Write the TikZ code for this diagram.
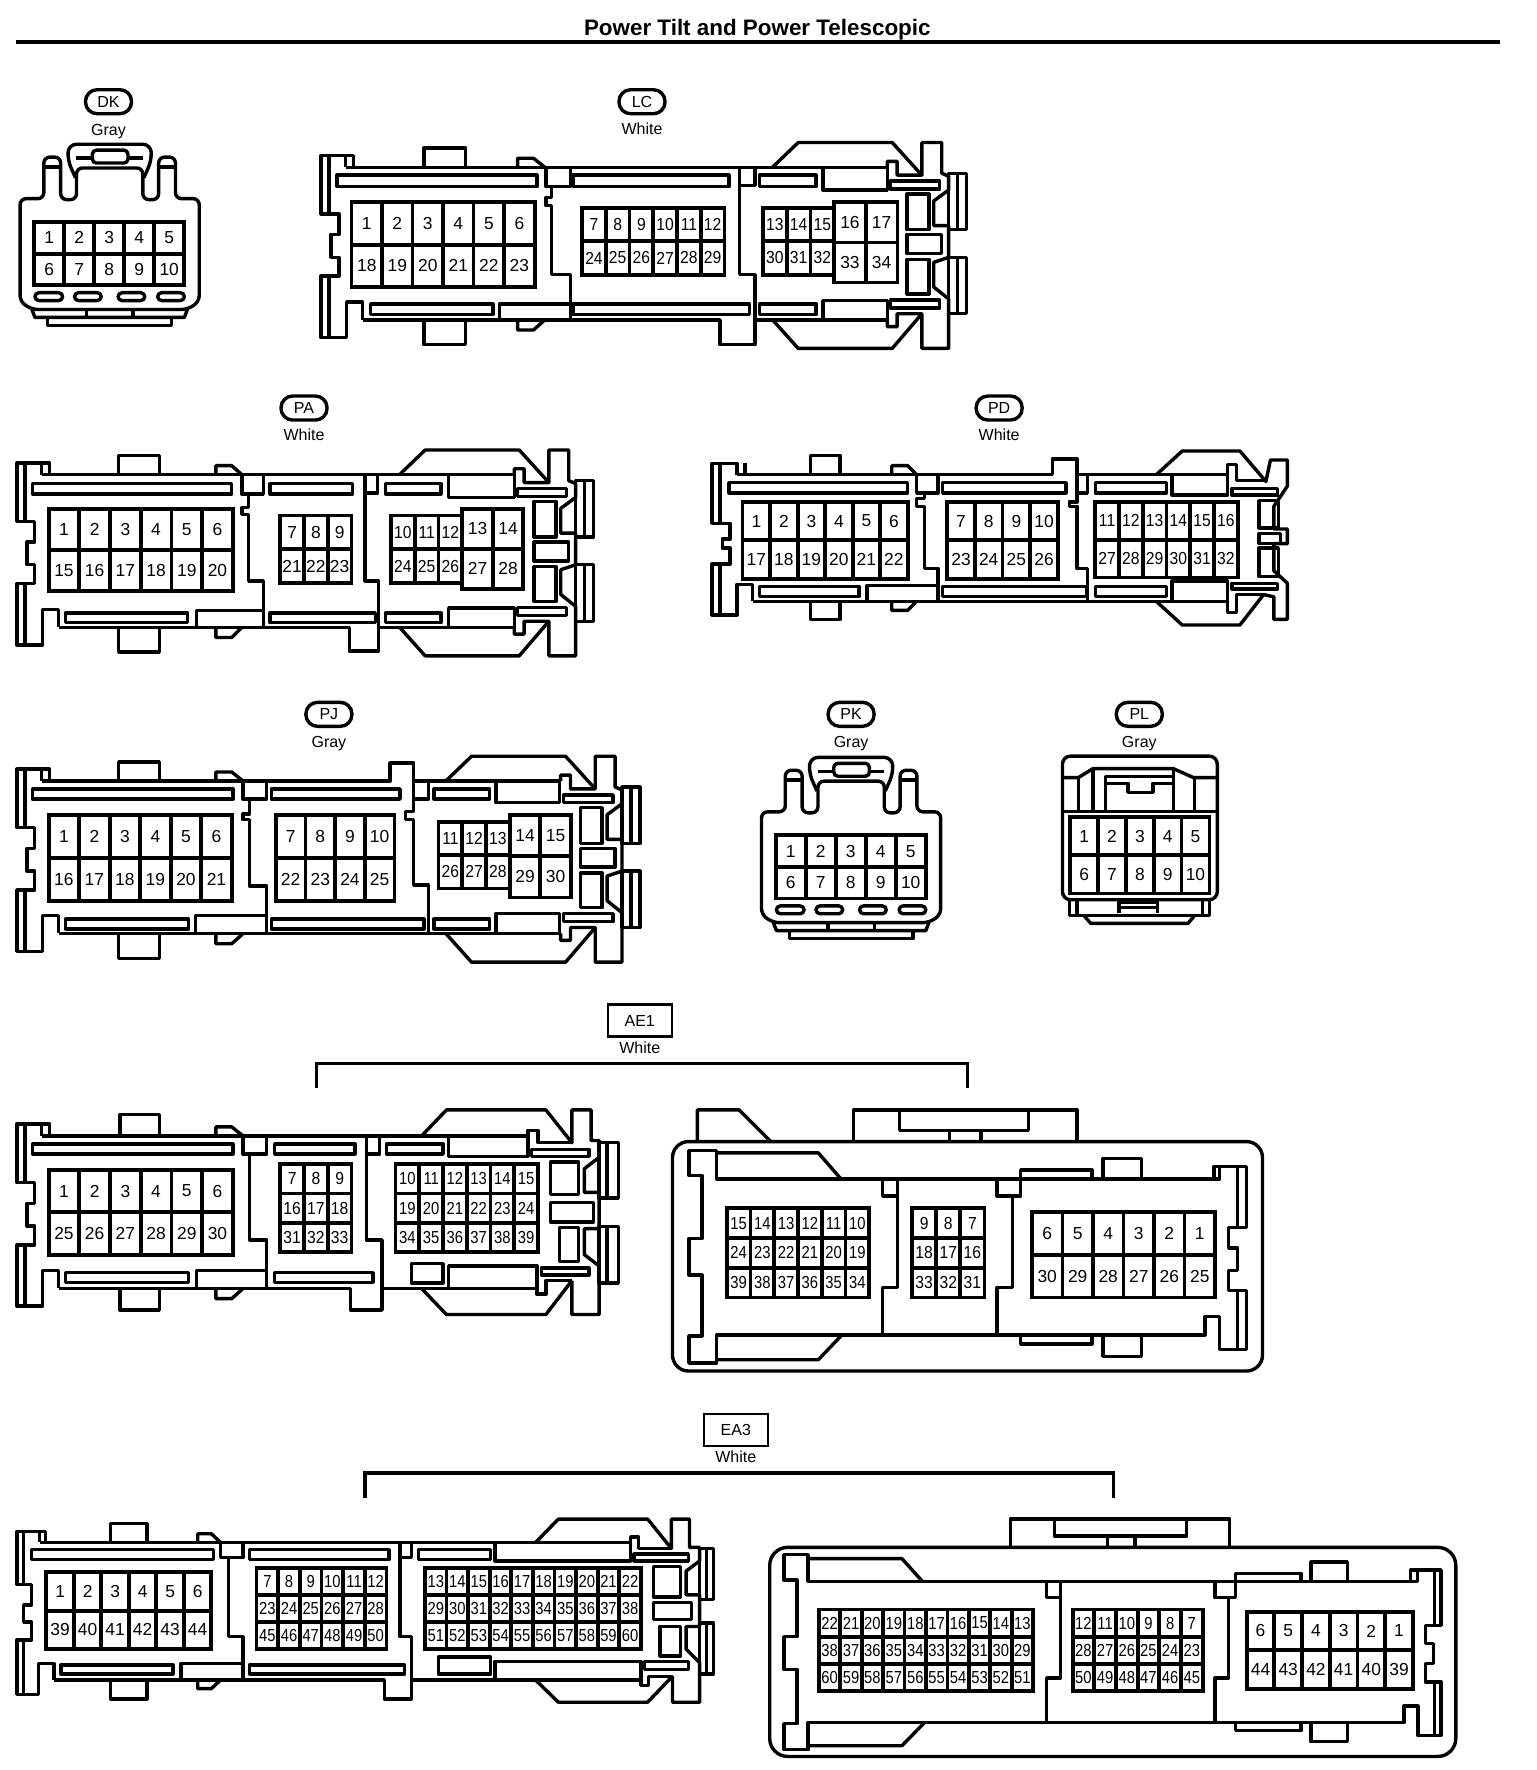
\documentclass[tikz,border=0pt]{standalone}
\usepackage{fontspec}
\setmainfont{Liberation Sans}
\tikzset{
  ln/.style={line width=1.7pt,line join=round},
  pinline/.style={line width=1.9pt},
  pinlabel/.style={inner sep=0pt,font=\fontsize{8.7}{8.7}\selectfont},
  pilltag/.style={draw,line width=1.7pt,rounded corners=5.8pt,minimum width=23pt,minimum height=12pt,inner sep=0pt,font=\fontsize{8}{8}\selectfont},
  boxtag/.style={draw,line width=1.2pt,minimum width=32pt,minimum height=16pt,inner sep=0pt,font=\fontsize{8}{8}\selectfont},
  colourtag/.style={inner sep=0pt,font=\fontsize{8}{8}\selectfont},
  bracket/.style={line width=1.8pt,line join=miter}
}
\newcommand\bx[4]{\draw[ln] (#1,#2) rectangle (#3,#4);}
\newcommand\pins[9][1]{%
  \pgfmathsetmacro\cwd{((#5)-(#3))/#7}%
  \pgfmathsetmacro\rht{((#6)-(#4))/#8}%
  \draw[pinline] (#3,#4) rectangle (#5,#6);
  \foreach \ii in {1,...,#7}{\draw[pinline] ({#3+\ii*\cwd},#4) -- ({#3+\ii*\cwd},#6);}
  \foreach \ii in {1,...,#8}{\draw[pinline] (#3,{#4+\ii*\rht}) -- (#5,{#4+\ii*\rht});}
  \foreach \rowlist [count=\rowno] in {#9}{
    \foreach \lab [count=\colno] in \rowlist {
      \node[pinlabel] (#2-\lab) at ({#3+(\colno-.5)*\cwd},{#4+(\rowno-.5)*\rht}) {\scalebox{#1}[1]{\lab}};
    }
  }
}
\newcommand\leftend[2]{%
  \begin{scope}[shift={(#1,#2)},scale=.8757]
    \draw[ln] (25,0)--(25,-12)--(0,-12)--(0,47)--(18,47)--(18,68)--(10,68)--(10,91)--(18,91)--(18,110)--(0,110)--(0,172)--(26,172)--(26,136)--(42,136)--(42,154);
    \draw[ln] (25,0)--(33,0)--(33,-12)--(25,-12);
    \draw[ln] (8,-12)--(8,47) (8,110)--(8,172);
  \end{scope}}
\newcommand\rightend[2]{%
  \begin{scope}[shift={(#1,#2)},scale=.8757]
    \draw[ln] (0,0)--(0,-6)--(10,-6)--(10,8)--(35,8)--(35,-25)--(55,-25)--(55,6)--(62,9)--(62,23)--(47,34)--(47,59)--(62,59)--(62,91)--(47,96)--(47,121)--(62,133)--(62,183)--(35,183)--(35,148)--(10,148)--(10,161)--(0,161)--(0,154);
    \draw[ln] (-116,0)--(-90,-25)--(5,-25)--(35,8);
    \draw[ln] (-116,154)--(-90,183)--(5,183)--(35,148);
    \draw[ln] (62,6) rectangle (80,63) (71,6)--(71,63);
    \draw[ln] (62,91) rectangle (80,148) (71,91)--(71,148);
    \draw[ln] (3,14) rectangle (53,22);
    \draw[ln] (3,134) rectangle (53,142);
    \draw[ln] (20,27) rectangle (42,63);
    \draw[ln] (20,68) rectangle (55,87);
    \draw[ln] (20,93) rectangle (42,128);
  \end{scope}}
\newcommand\plugten[3]{%
  \begin{scope}[shift={(#2,#3)},scale=.8757]
    \draw[ln,rounded corners=3pt] (30,311)--(18,303)--(18,199)--(42,199)--(42,157)--(59,157)--(59,200)--(75,200)--(75,168)--(142,168)--(142,200)--(158,200)--(158,157)--(175,157)--(175,199)--(199,199)--(199,303)--(187,311)--cycle;
    \draw[ln] (42,167)--(59,167) (158,167)--(175,167);
    \draw[ln,rounded corners=4pt] (74,178)--(66,160)--(67,144)--(150,144)--(151,160)--(143,178);
    \draw[ln] (75,158)--(91,158) (127,158)--(142,158);
    \draw[ln,rounded corners=2pt] (91,150) rectangle (127,163);
    \draw[ln,rounded corners=2pt] (33,294) rectangle (61,302);
    \draw[ln,rounded corners=2pt] (73,294) rectangle (100,302);
    \draw[ln,rounded corners=2pt] (117,294) rectangle (144,302);
    \draw[ln,rounded corners=2pt] (157,294) rectangle (184,302);
    \draw[ln] (30,311)--(33,319)--(184,319)--(187,311);
    \draw[ln] (85,311)--(85,319) (132,311)--(132,319);
    \draw[ln] (46,319) rectangle (171,327);
  \end{scope}
  \pins{#1}{#2+28.3}{#3+195}{#2+161}{#3+251}{5}{2}{{1,2,3,4,5},{6,7,8,9,10}}}
\begin{document}
\begin{tikzpicture}[x=0.5651pt,y=-0.5651pt]
\fill[white] (0,0) rectangle (1359,1566);
\useasboundingbox (0,0) rectangle (1359,1566);
% title
\node[inner sep=0pt,font=\fontsize{11.2}{11.2}\bfseries\selectfont] (title) at (670,26) {Power Tilt and Power Telescopic};
\draw[line width=2.2pt] (14,37)--(1327,37);
% tags
\node[pilltag] (tDK) at (96,90) {DK};   \node[colourtag] (cDK) at (96,116) {Gray};
\node[pilltag] (tLC) at (568,90) {LC};  \node[colourtag] (cLC) at (568,114) {White};
\node[pilltag] (tPA) at (269,361) {PA}; \node[colourtag] (cPA) at (269,385) {White};
\node[pilltag] (tPD) at (884,361) {PD}; \node[colourtag] (cPD) at (884,385) {White};
\node[pilltag] (tPJ) at (291,632) {PJ}; \node[colourtag] (cPJ) at (291,658) {Gray};
\node[pilltag] (tPK) at (753,632) {PK}; \node[colourtag] (cPK) at (753,658) {Gray};
\node[pilltag] (tPL) at (1008,632) {PL};\node[colourtag] (cPL) at (1008,658) {Gray};
\node[boxtag] (tAE) at (566,903) {AE1}; \node[colourtag] (cAE) at (566,927) {White};
\node[boxtag] (tEA) at (651,1265) {EA3};\node[colourtag] (cEA) at (651,1289) {White};
% brackets
\coordinate (ae1l) at (280,963); \coordinate (ae1r) at (856,963);
\draw[bracket] (ae1l)--(280,941)--(856,941)--(ae1r);
\coordinate (ea3l) at (323,1325); \coordinate (ea3r) at (985,1325);
\draw[bracket] (ea3l)--(323,1303)--(985,1303)--(ea3r);

% DK / PK
\plugten{DK}{2}{1.5}
\plugten{PK}{658}{544}

% LC
\leftend{284}{148}
\rightend{785}{148}
\draw[ln] (312,148)--(785,148);
\draw[ln] (321,283)--(637,283)--(637,305)--(668,305)--(668,283)--(785,283);
\draw[ln] (375,148)--(375,131)--(412,131)--(412,148);
\draw[ln] (375,283)--(375,305)--(412,305)--(412,283);
\draw[ln] (458,148)--(458,140)--(472,140)--(482,148);
\draw[ln] (458,283)--(458,292)--(472,292)--(482,283);
\bx{298}{155}{475}{165}
\bx{328}{269}{436}{278}
\bx{483}{148}{505}{165}
\draw[ln] (488,165)--(488,175)--(483,175)--(483,182)--(488,182)--(488,243)--(505,243)--(505,283);
\draw[ln] (442,283)--(442,269)--(505,269);
\bx{507}{155}{645}{165}
\bx{507}{269}{663}{278}
\bx{654}{148}{668}{164}
\draw[ln] (654,164)--(654,243)--(668,243)--(668,283);
\bx{672}{155}{722}{165}
\bx{672}{269}{722}{278}
\bx{728}{148}{785}{168}
\bx{728}{266}{785}{283}
\pins{LC1}{311}{179}{473}{254}{6}{2}{{1,2,3,4,5,6},{18,19,20,21,22,23}}
\pins[.9]{LC2}{515}{184}{641}{243}{6}{2}{{7,8,9,10,11,12},{24,25,26,27,28,29}}
\pins[.9]{LC3}{675}{184}{738}{243}{3}{2}{{13,14,15},{30,31,32}}
\pins{LC4}{738}{179}{794}{250}{2}{2}{{16,17},{33,34}}

% PA
\leftend{15}{420}
\rightend{455}{420}
\draw[ln] (44,420)--(455,420);
\draw[ln] (52,555)--(309,555)--(309,576)--(335,576)--(335,555)--(455,555);
\draw[ln] (105,420)--(105,403)--(141,403)--(141,420);
\draw[ln] (105,555)--(105,577)--(141,577)--(141,555);
\draw[ln] (191,420)--(191,412)--(205,412)--(214,420);
\draw[ln] (191,555)--(191,564)--(205,564)--(214,555);
\bx{29}{428}{205}{437}
\bx{58}{542.5}{166}{551}
\bx{214}{420}{233}{437}
\draw[ln] (220,437)--(220,449)--(214,449)--(214,455)--(220,455)--(220,514)--(233,514)--(233,555);
\draw[ln] (174,555)--(174,540)--(233,540);
\bx{239}{428}{312}{437}
\bx{239}{542.5}{332}{551}
\bx{323}{420}{334}{436}
\draw[ln] (323,436)--(323,514)--(335,514)--(335,555);
\bx{341}{428}{390}{437}
\bx{341}{542.5}{390}{551}
\bx{397}{420}{455}{440}
\bx{397}{538}{455}{555}
\pins{PA1}{43}{450}{206}{523}{6}{2}{{1,2,3,4,5,6},{15,16,17,18,19,20}}
\pins{PA2}{248}{456}{311}{516}{3}{2}{{7,8,9},{21,22,23}}
\pins[.9]{PA3}{346}{456}{409}{516}{3}{2}{{10,11,12},{24,25,26}}
\pins{PA4}{409}{450}{463}{521}{2}{2}{{13,14},{27,28}}

% PD
\draw[ln] (652,420)--(652,410)--(630,410)--(630,463)--(646,463)--(646,477)--(639,477)--(639,485)--(646,485)--(646,499)--(630,499)--(630,544)--(652,544)--(652,517)--(666,517)--(666,532);
\draw[ln] (637,410)--(637,463) (637,499)--(637,544) (652,420)--(659,420)--(659,410);
\draw[ln] (659,420)--(931,420)--(931,406)--(953,406)--(953,444)--(946,444)--(946,448)--(953,448)--(953,503)--(962,503)--(962,532);
\draw[ln] (666,532)--(1086,532)--(1086,542)--(1094,542)--(1094,526)--(1118,526);
\draw[ln] (953,420)--(1086,420)--(1086,411)--(1094,411)--(1094,425)--(1120,425);
\draw[ln] (717,420)--(717,403)--(743,403)--(743,420);
\draw[ln] (717,532)--(717,548)--(743,548)--(743,532);
\draw[ln] (789,420)--(789,412)--(803,412)--(811,420);
\draw[ln] (789,532)--(789,540)--(803,540)--(811,532);
\bx{645}{427}{803}{436}
\bx{672}{519}{760}{527.5}
\draw[ln] (767,532)--(767,518)--(830,518);
\bx{811}{420}{830}{436}
\draw[ln] (818,436)--(818,441)--(811,441)--(811,448)--(818,448)--(818,503)--(830,503)--(830,532);
\bx{834}{427}{943}{436}
\bx{834}{519}{961}{527.5}
\bx{953}{420}{962}{436}
\bx{969}{427}{1032}{436}
\bx{969}{519}{1032}{527.5}
\bx{1037}{420}{1086}{438}
\bx{1037}{514}{1086}{532}
\draw[ln] (1023,420)--(1046,399)--(1097,399)--(1120,426)--(1124,407)--(1139,407)--(1139,430)--(1127,448)--(1127,468)--(1139,468)--(1139,481)--(1127,481)--(1127,505)--(1139,516)--(1139,548)--(1127,548)--(1127,528)--(1118,526);
\draw[ln] (1023,532)--(1046,553)--(1097,553)--(1118,526);
\bx{1090}{432}{1130}{438}
\bx{1090}{516}{1130}{521}
\bx{1114}{443}{1131}{467}
\bx{1114}{472}{1133}{481}
\bx{1114}{485}{1131}{510}
\pins{PD1}{657}{444}{803}{512}{6}{2}{{1,2,3,4,5,6},{17,18,19,20,21,22}}
\pins{PD2}{838}{444}{936}{512}{4}{2}{{7,8,9,10},{23,24,25,26}}
\pins[.9]{PD3}{969}{444}{1095}{511}{6}{2}{{11,12,13,14,15,16},{27,28,29,30,31,32}}

% PJ
\leftend{15}{691}
\rightend{496}{691}
\draw[ln] (44,691)--(345,691)--(345,675)--(366,675)--(366,691)--(496,691);
\draw[ln] (52,826)--(496,826);
\draw[ln] (105,691)--(105,674)--(141,674)--(141,691);
\draw[ln] (105,826)--(105,848)--(141,848)--(141,826);
\draw[ln] (191,691)--(191,683)--(205,683)--(215,691);
\draw[ln] (191,826)--(191,835)--(205,835)--(215,826);
\bx{29}{698}{206}{707}
\bx{58}{813}{167}{822}
\bx{215}{691}{236}{707}
\draw[ln] (221,707)--(221,720)--(215,720)--(215,725)--(221,725)--(221,784)--(236,784)--(236,826);
\draw[ln] (173,826)--(173,810)--(236,810);
\bx{240}{698}{354}{707}
\bx{240}{813}{375}{822}
\bx{366}{691}{379}{707}
\draw[ln] (366,707)--(366,718)--(359,718)--(359,725)--(366,725)--(366,783)--(379,783)--(379,826);
\bx{384}{698}{433}{707}
\bx{384}{813}{433}{822}
\bx{439}{691}{495}{710}
\bx{439}{808}{495}{826}
\pins{PJ1}{43}{721}{205}{797}{6}{2}{{1,2,3,4,5,6},{16,17,18,19,20,21}}
\pins{PJ2}{244}{721}{349}{797}{4}{2}{{7,8,9,10},{22,23,24,25}}
\pins[.9]{PJ3}{388}{727}{451}{786}{3}{2}{{11,12,13},{26,27,28}}
\pins{PJ4}{451}{721}{505}{794}{2}{2}{{14,15},{29,30}}

% PL
\draw[ln,rounded corners=4pt] (940,669) rectangle (1077,796);
\draw[ln] (940,688)--(954,688)--(967,680)--(1038,680)--(1056,688)--(1077,688);
\draw[ln] (940,718)--(1077,718);
\draw[ln] (954,688)--(954,718) (967,680)--(967,718) (1038,680)--(1038,718) (1057,688)--(1057,718);
\draw[ln] (978,718)--(978,687)--(1038,687)--(1038,718);
\draw[ln] (978,693)--(998,693)--(998,701)--(1020,701)--(1020,693)--(1038,693);
\draw[ln] (946,796)--(946,810)--(1070,810)--(1070,796) (953,796)--(953,810) (1064,796)--(1064,810);
\draw[ln] (959,810)--(965,817)--(1051,817)--(1057,810);
\draw[ln] (990,808)--(990,798)--(1024,798)--(1024,808) (990,803)--(1024,803);
\pins{PL}{947}{723}{1070}{790.5}{5}{2}{{1,2,3,4,5},{6,7,8,9,10}}

% AE1 left
\leftend{15}{1005}
\draw[ln] (44,1005)--(467,1005)--(467,1000)--(476,1000)--(476,1011)--(506,1011);
\draw[ln] (52,1140)--(310,1140)--(310,1159)--(338,1159)--(338,1140)--(475,1140)--(475,1145)--(483,1145)--(483,1133)--(506,1133);
\draw[ln] (106,1005)--(106,986)--(141,986)--(141,1005);
\draw[ln] (106,1140)--(106,1159)--(141,1159)--(141,1140);
\draw[ln] (191,1005)--(191,997)--(205,997)--(215,1005);
\draw[ln] (191,1140)--(191,1149)--(205,1149)--(215,1140);
\bx{29}{1012}{206}{1021}
\bx{58}{1126}{167}{1134.5}
\bx{215}{1005}{236}{1021}
\draw[ln] (221,1021)--(221,1097)--(236,1097)--(236,1140);
\draw[ln] (174,1140)--(174,1124)--(236,1124);
\bx{243}{1012}{314}{1021}
\bx{243}{1126}{330}{1134.5}
\bx{324}{1005}{336}{1021}
\draw[ln] (324,1021)--(324,1097)--(338,1097)--(338,1140);
\bx{342}{1012}{392}{1021}
\bx{397}{1005}{467}{1023}
\bx{397}{1120}{475}{1140}
\bx{364}{1118}{392}{1135}
\draw[ln] (373,1005)--(395,982)--(483,982)--(506,1011)--(506,982)--(523,982)--(523,1009)--(530,1009)--(530,1024)--(517,1034)--(517,1055)--(530,1055)--(530,1087)--(517,1087)--(517,1110)--(530,1120)--(530,1163)--(506,1163)--(506,1133);
\draw[ln] (373,1140)--(395,1163)--(483,1163)--(506,1133);
\draw[ln] (530,1011) rectangle (547,1060) (537,1011)--(537,1060);
\draw[ln] (530,1085) rectangle (547,1135) (537,1085)--(537,1135);
\bx{470}{1017}{521}{1023}
\bx{479}{1122}{521}{1128}
\bx{487}{1028}{512}{1057}
\bx{487}{1064}{525}{1081}
\bx{495}{1086}{512}{1116}
\pins{AL1}{43}{1035}{206}{1110}{6}{2}{{1,2,3,4,5,6},{25,26,27,28,29,30}}
\pins[.9]{AL2}{248}{1030}{311}{1108}{3}{3}{{7,8,9},{16,17,18},{31,32,33}}
\pins[.85]{AL3}{350}{1030}{476}{1108}{6}{3}{{10,11,12,13,14,15},{19,20,21,22,23,24},{34,35,36,37,38,39}}

% AE1 right
\draw[ln,rounded corners=8pt] (595,1010) rectangle (1117,1213);
\draw[ln] (617,1010)--(617,982)--(654,982)--(682,1010);
\draw[ln] (755,1010)--(755,982)--(953,982)--(953,1010);
\draw[ln] (796,982)--(796,1000)--(910,1000)--(910,982);
\draw[ln] (840,1000)--(840,1010) (868,1000)--(868,1010);
\draw[ln] (634,1043)--(634,1018)--(609.5,1018)--(609.5,1040)--(621,1040)--(621,1096)--(609.5,1096)--(609.5,1128)--(621,1128)--(621,1182)--(609.5,1182)--(609.5,1206)--(634,1206)--(634,1181)--(1066,1181)--(1066,1165)--(1079,1165)--(1079,1194)--(1103,1194)--(1103,1142)--(1087,1142)--(1087,1124)--(1095,1124)--(1095,1104)--(1087,1104)--(1087,1086)--(1103,1086)--(1103,1032)--(1074,1032)--(1074,1043)--cycle;
\draw[ln] (634,1020)--(724,1020)--(744,1043);
\draw[ln] (634,1203)--(724,1203)--(745,1181);
\draw[ln] (1095,1032)--(1095,1086) (1095,1142)--(1095,1194) (1079,1032)--(1079,1043)--(1074,1043);
\draw[ln] (903,1043)--(903,1035)--(966,1035)--(966,1043);
\draw[ln] (976,1043)--(976,1025)--(1010,1025)--(1010,1043);
\draw[ln] (903,1181)--(903,1189)--(966,1189)--(966,1181);
\draw[ln] (976,1181)--(976,1200)--(1010,1200)--(1010,1181);
\bx{781}{1043}{794}{1058}
\draw[ln] (794,1058)--(794,1139)--(781,1139)--(781,1181);
\bx{882}{1043}{903}{1058}
\draw[ln] (896,1058)--(896,1139)--(882,1139)--(882,1181);
\pins[.85]{AR1}{643}{1069}{769}{1148}{6}{3}{{15,14,13,12,11,10},{24,23,22,21,20,19},{39,38,37,36,35,34}}
\pins[.9]{AR2}{807}{1069}{871}{1148}{3}{3}{{9,8,7},{18,17,16},{33,32,31}}
\pins{AR3}{913}{1072}{1075}{1148}{6}{2}{{6,5,4,3,2,1},{30,29,28,27,26,25}}

% EA3 left
\draw[ln] (35,1364.5)--(40,1364.5)--(40,1355)--(15,1355)--(15,1402)--(28,1402)--(28,1420)--(21,1420)--(21,1435)--(28,1435)--(28,1451)--(15,1451)--(15,1499)--(34,1499)--(34,1472)--(47.6,1472)--(47.6,1486.5);
\draw[ln] (35,1355)--(35,1364.5) (21,1355)--(21,1402) (21,1451)--(21,1499);
\draw[ln] (40,1364.5)--(558,1364.5)--(558,1360)--(565,1360)--(565,1370)--(594,1370);
\draw[ln] (47.6,1486.5)--(340,1486.5)--(340,1503)--(364,1503)--(364,1486.5)--(567,1486.5)--(567,1491)--(574,1491)--(574,1483)--(595,1483);
\draw[ln] (98,1364.5)--(98,1348)--(130,1348)--(130,1364.5);
\draw[ln] (98,1486.5)--(98,1503)--(130,1503)--(130,1486.5);
\draw[ln] (175,1364.5)--(175,1357)--(187,1357)--(195,1364.5);
\draw[ln] (175,1486.5)--(175,1494)--(187,1494)--(195,1486.5);
\bx{28}{1371}{189}{1380}
\bx{54}{1473}{153}{1481}
\bx{195}{1364.5}{215}{1378}
\draw[ln] (202,1378)--(202,1448)--(215,1448)--(215,1486.5);
\draw[ln] (160,1486.5)--(160,1472)--(215,1472);
\bx{221}{1371}{344}{1380}
\bx{221}{1473}{358}{1481}
\bx{354}{1364.5}{364}{1378}
\draw[ln] (354,1378)--(354,1448)--(364,1448)--(364,1486.5);
\bx{370}{1371}{434}{1380}
\bx{438}{1364.5}{558}{1381}
\bx{438}{1470}{567}{1486.5}
\bx{388}{1466}{434}{1481}
\draw[ln] (474,1364.5)--(494,1344)--(573,1344)--(594,1370)--(594,1344)--(610,1344)--(610,1369)--(619,1369)--(619,1381)--(607,1390)--(607,1411)--(619,1411)--(619,1439)--(607,1439)--(607,1459)--(619,1471)--(619,1506)--(595,1506)--(595,1483);
\draw[ln] (474,1486.5)--(494,1506)--(573,1506)--(595,1483);
\draw[ln] (619,1370) rectangle (631,1415) (625,1370)--(625,1415);
\draw[ln] (619,1436) rectangle (631,1481) (625,1436)--(625,1481);
\bx{561}{1375}{609}{1381}
\bx{570}{1470}{609}{1477}
\bx{578}{1386}{602}{1413}
\bx{578}{1418}{612}{1433}
\bx{584}{1439}{602}{1465}
\pins{EL1}{41}{1391}{187}{1459}{6}{2}{{1,2,3,4,5,6},{39,40,41,42,43,44}}
\pins[.85]{EL2}{227}{1387}{342}{1459}{6}{3}{{7,8,9,10,11,12},{23,24,25,26,27,28},{45,46,47,48,49,50}}
\pins[.85]{EL3}{376}{1387}{567}{1459}{10}{3}{{13,14,15,16,17,18,19,20,21,22},{29,30,31,32,33,34,35,36,37,38},{51,52,53,54,55,56,57,58,59,60}}

% EA3 right
\draw[ln,rounded corners=9pt] (681,1369) rectangle (1288,1554);
\draw[ln] (894,1369)--(894,1344)--(1088,1344)--(1088,1369);
\draw[ln] (933,1344)--(933,1359)--(1050,1359)--(1050,1344);
\draw[ln] (980,1359)--(980,1369) (1004,1359)--(1004,1369);
\draw[ln] (715,1399)--(715,1375.5)--(693.5,1375.5)--(693.5,1398)--(705,1398)--(705,1448)--(693.5,1448)--(693.5,1477)--(705,1477)--(705,1525)--(693.5,1525)--(693.5,1548)--(715,1548)--(715,1524)--(1242,1524)--(1242,1509.5)--(1254.5,1509.5)--(1254.5,1535.6)--(1275,1535.6)--(1275,1488)--(1261,1488)--(1261,1472)--(1268,1472)--(1268,1454)--(1261,1454)--(1261,1438)--(1275,1438)--(1275,1389)--(1248,1389)--(1248,1399)--cycle;
\draw[ln] (715,1379)--(798,1379)--(816,1399);
\draw[ln] (715,1544.5)--(798,1544.5)--(818,1524);
\draw[ln] (1269,1389)--(1269,1438) (1269,1488)--(1269,1535.6) (1254,1389)--(1254,1399)--(1248,1399);
\draw[ln] (1093,1399)--(1093,1392)--(1151,1392)--(1151,1399);
\draw[ln] (1160,1399)--(1160,1382)--(1192,1382)--(1192,1399);
\draw[ln] (1093,1524)--(1093,1531)--(1151,1531)--(1151,1524);
\draw[ln] (1160,1524)--(1160,1541)--(1192,1541)--(1192,1524);
\bx{926}{1399}{938}{1413.5}
\draw[ln] (938,1413.5)--(938,1484.6)--(926,1484.6)--(926,1524);
\bx{1075}{1399}{1093}{1413.5}
\draw[ln] (1087,1413.5)--(1087,1484.6)--(1075,1484.6)--(1075,1524);
\pins[.85]{ER1}{724.5}{1424}{914}{1496}{10}{3}{{22,21,20,19,18,17,16,15,14,13},{38,37,36,35,34,33,32,31,30,29},{60,59,58,57,56,55,54,53,52,51}}
\pins[.85]{ER2}{949}{1424}{1064}{1496}{6}{3}{{12,11,10,9,8,7},{28,27,26,25,24,23},{50,49,48,47,46,45}}
\pins{ER3}{1103}{1426}{1250}{1494}{6}{2}{{6,5,4,3,2,1},{44,43,42,41,40,39}}
\end{tikzpicture}
\end{document}
